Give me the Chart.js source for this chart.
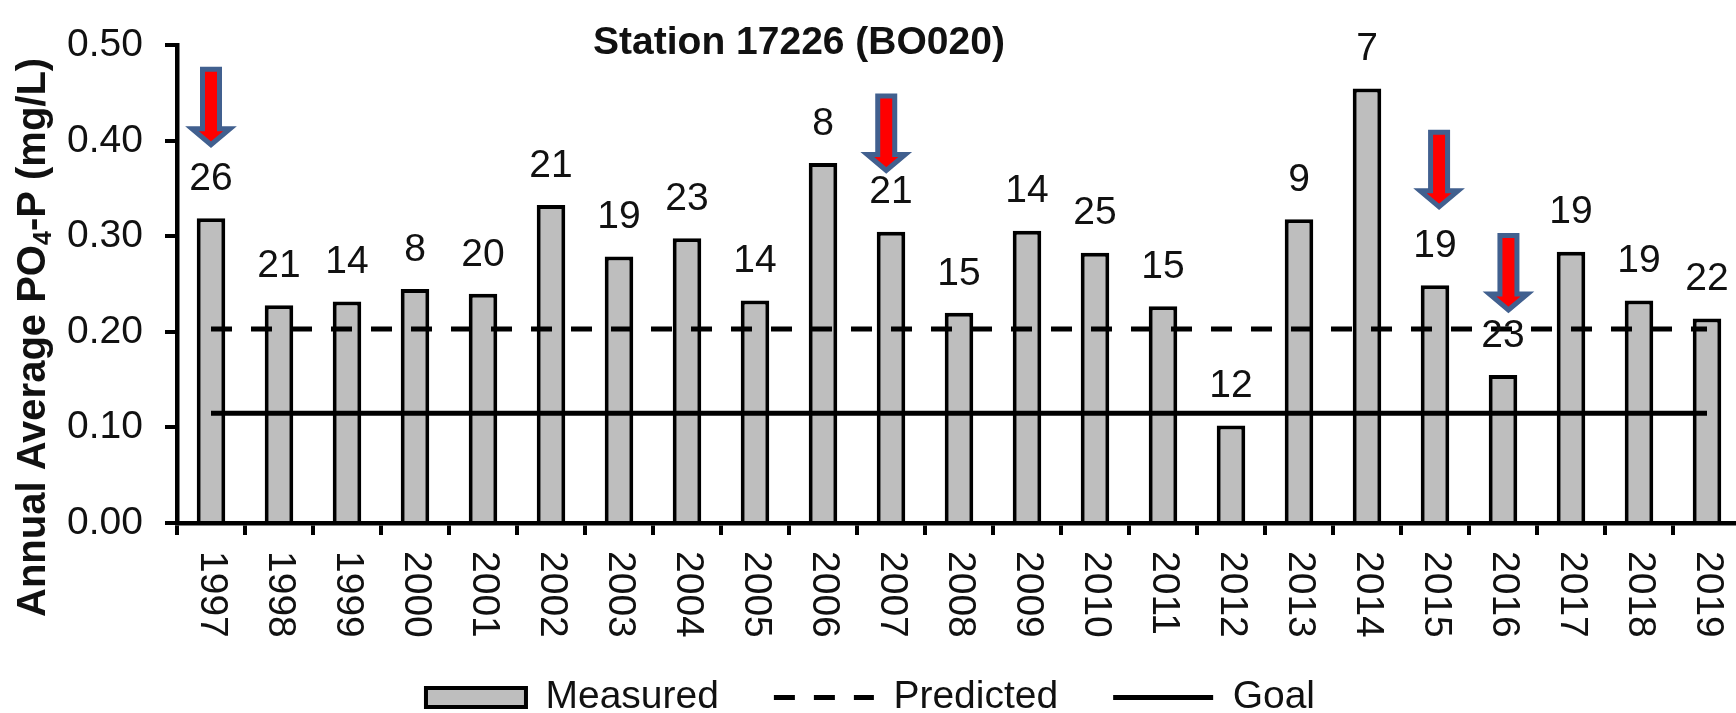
<!DOCTYPE html>
<html>
<head>
<meta charset="utf-8">
<title>Station 17226 (BO020)</title>
<script src="https://cdn.jsdelivr.net/npm/chart.js@4.4.1/dist/chart.umd.min.js"></script>
<style>
body{margin:0;background:#fff;overflow:hidden;}
#wrap{width:1741px;height:713px;}
canvas{display:block;}
</style>
</head>
<body>
<div id="wrap"><canvas id="myChart" width="1741" height="713"></canvas></div>
<script>
'use strict';
let years=['1997','1998','1999','2000','2001','2002','2003','2004','2005','2006','2007','2008','2009','2010','2011','2012','2013','2014','2015','2016','2017','2018','2019'];
let measured=[0.319,0.228,0.232,0.245,0.240,0.333,0.279,0.298,0.233,0.377,0.305,0.220,0.306,0.283,0.227,0.102,0.318,0.455,0.249,0.155,0.284,0.233,0.214];
let sampleCounts=[26,21,14,8,20,21,19,23,14,8,21,15,14,25,15,12,9,7,19,23,19,19,22];
let predicted=[0.203,0.203,0.203,0.203,0.203,0.203,0.203,0.203,0.203,0.203,0.203,0.203,0.203,0.203,0.203,0.203,0.203,0.203,0.203,0.203,0.203,0.203,0.203];
let goal=[0.115,0.115,0.115,0.115,0.115,0.115,0.115,0.115,0.115,0.115,0.115,0.115,0.115,0.115,0.115,0.115,0.115,0.115,0.115,0.115,0.115,0.115,0.115];
let yMin=0, yMax=0.5, yStep=0.1;
// red arrows (top and tip in mg/L, shift in fraction of a category)
let arrowYears=['1997','2007','2015','2016'];
let arrowTop=[0.475,0.447,0.409,0.301];
let arrowTip=[0.396,0.369,0.331,0.223];
let arrowShift=[0,-0.07,0.06,0.08];

let fontFam='"Liberation Sans", Arial, sans-serif';
Chart.defaults.font.family=fontFam;
Chart.defaults.color='#000';

let extraText={
  id:'extraText',
  afterDatasetsDraw:function(chart){
    let ctx=chart.ctx;
    let xs=chart.scales.x;
    let ys=chart.scales.y;
    let bars=chart.getDatasetMeta(0).data;
    ctx.save();
    ctx.fillStyle='#111';
    ctx.textAlign='center';
    ctx.textBaseline='middle';
    ctx.font='39px '+fontFam;
    for(let i=0;i<bars.length;i++)
    {
      ctx.fillText(String(sampleCounts[i]),bars[i].x,bars[i].y-39);
    }
    // arrows
    let catW=xs.width/years.length;
    for(let k=0;k<arrowYears.length;k++)
    {
      let i=years.indexOf(arrowYears[k]);
      let cx=xs.getPixelForValue(i)+arrowShift[k]*catW;
      let top=ys.getPixelForValue(arrowTop[k]);
      let tip=ys.getPixelForValue(arrowTip[k]);
      let head=tip-16;
      ctx.beginPath();
      ctx.moveTo(cx-8.5,top);
      ctx.lineTo(cx+8.5,top);
      ctx.lineTo(cx+8.5,head);
      ctx.lineTo(cx+19,head);
      ctx.lineTo(cx,tip);
      ctx.lineTo(cx-19,head);
      ctx.lineTo(cx-8.5,head);
      ctx.closePath();
      ctx.fillStyle='#FF0000';
      ctx.fill();
      ctx.lineWidth=5;
      ctx.lineJoin='miter';
      ctx.strokeStyle='#41608F';
      ctx.stroke();
    }
    ctx.restore();
  },
  afterDraw:function(chart){
    let ctx=chart.ctx;
    let area=chart.chartArea;
    let xs=chart.scales.x;
    ctx.save();
    ctx.fillStyle='#111';
    // year labels, turned clockwise
    ctx.font='39px '+fontFam;
    ctx.textAlign='left';
    ctx.textBaseline='middle';
    for(let i=0;i<years.length;i++)
    {
      ctx.save();
      ctx.translate(xs.getPixelForValue(i)+1,area.bottom+28);
      ctx.rotate(Math.PI/2);
      ctx.fillText(years[i],0,0);
      ctx.restore();
    }
    // title
    ctx.font='bold 39px '+fontFam;
    ctx.textAlign='center';
    ctx.fillText('Station 17226 (BO020)',area.left+622,area.top-2);
    // y axis title with subscript
    let p1='Annual Average PO', p2='4', p3='-P (mg/L)';
    let big='bold 40px '+fontFam, small='bold 25px '+fontFam;
    ctx.font=big;
    let w1=ctx.measureText(p1).width, w3=ctx.measureText(p3).width;
    ctx.font=small;
    let w2=ctx.measureText(p2).width;
    ctx.translate(45,area.top+292);
    ctx.rotate(-Math.PI/2);
    ctx.textAlign='left';
    ctx.textBaseline='alphabetic';
    let sx=-(w1+w2+w3)/2;
    ctx.font=big;
    ctx.fillText(p1,sx,0);
    ctx.font=small;
    ctx.fillText(p2,sx+w1,6);
    ctx.font=big;
    ctx.fillText(p3,sx+w1+w2,0);
    ctx.restore();
  }
};

function legendLabels(chart)
{
  let items=Chart.defaults.plugins.legend.labels.generateLabels(chart);
  items.forEach(function(it){
    let ds=chart.data.datasets[it.datasetIndex];
    it.lineWidth=ds.borderWidth;
    it.lineDash=ds.borderDash||[];
    it.strokeStyle='#000';
    it.pointStyle=ds.type==='bar'?'rect':'line';
  });
  return items.sort(function(a,b){return a.datasetIndex-b.datasetIndex;});
}

let ctx=document.getElementById('myChart').getContext('2d');
let myChart=new Chart(ctx,{
  data:{
    labels:years,
    datasets:[{
      type:'bar',
      label:'Measured',
      data:measured,
      backgroundColor:'#BEBEBE',
      borderColor:'#000',
      borderWidth:4,
      barPercentage:0.42,
      categoryPercentage:1,
      order:2
    },{
      type:'line',
      label:'Predicted',
      data:predicted,
      borderColor:'#000',
      borderWidth:5,
      borderDash:[21,19],
      pointRadius:0,
      fill:false,
      order:1
    },{
      type:'line',
      label:'Goal',
      data:goal,
      borderColor:'#000',
      borderWidth:5,
      pointRadius:0,
      fill:false,
      order:0
    }]
  },
  options:{
    responsive:false,
    animation:false,
    devicePixelRatio:1,
    layout:{padding:{top:31,left:0,right:0,bottom:0}},
    plugins:{
      tooltip:{enabled:false},
      title:{display:false},
      legend:{
        position:'bottom',
        maxHeight:90,
        labels:{
          usePointStyle:true,
          pointStyleWidth:100,
          boxHeight:19,
          padding:55,
          color:'#111',
          font:{size:39},
          generateLabels:legendLabels
        }
      }
    },
    scales:{
      x:{
        offset:true,
        afterFit:function(scale){scale.height=100;},
        ticks:{display:false},
        grid:{offset:true,drawOnChartArea:false,drawTicks:true,tickLength:12,color:'#000',lineWidth:4},
        border:{display:true,color:'#000',width:4.5}
      },
      y:{
        min:yMin,
        max:yMax,
        afterFit:function(scale){scale.width=177;},
        ticks:{stepSize:yStep,padding:22,color:'#111',font:{size:39},callback:function(v){return Number(v).toFixed(2);}},
        grid:{drawOnChartArea:false,drawTicks:true,tickLength:12,color:'#000',lineWidth:4},
        border:{display:true,color:'#000',width:4.5}
      }
    }
  },
  plugins:[extraText]
});
</script>
</body>
</html>
